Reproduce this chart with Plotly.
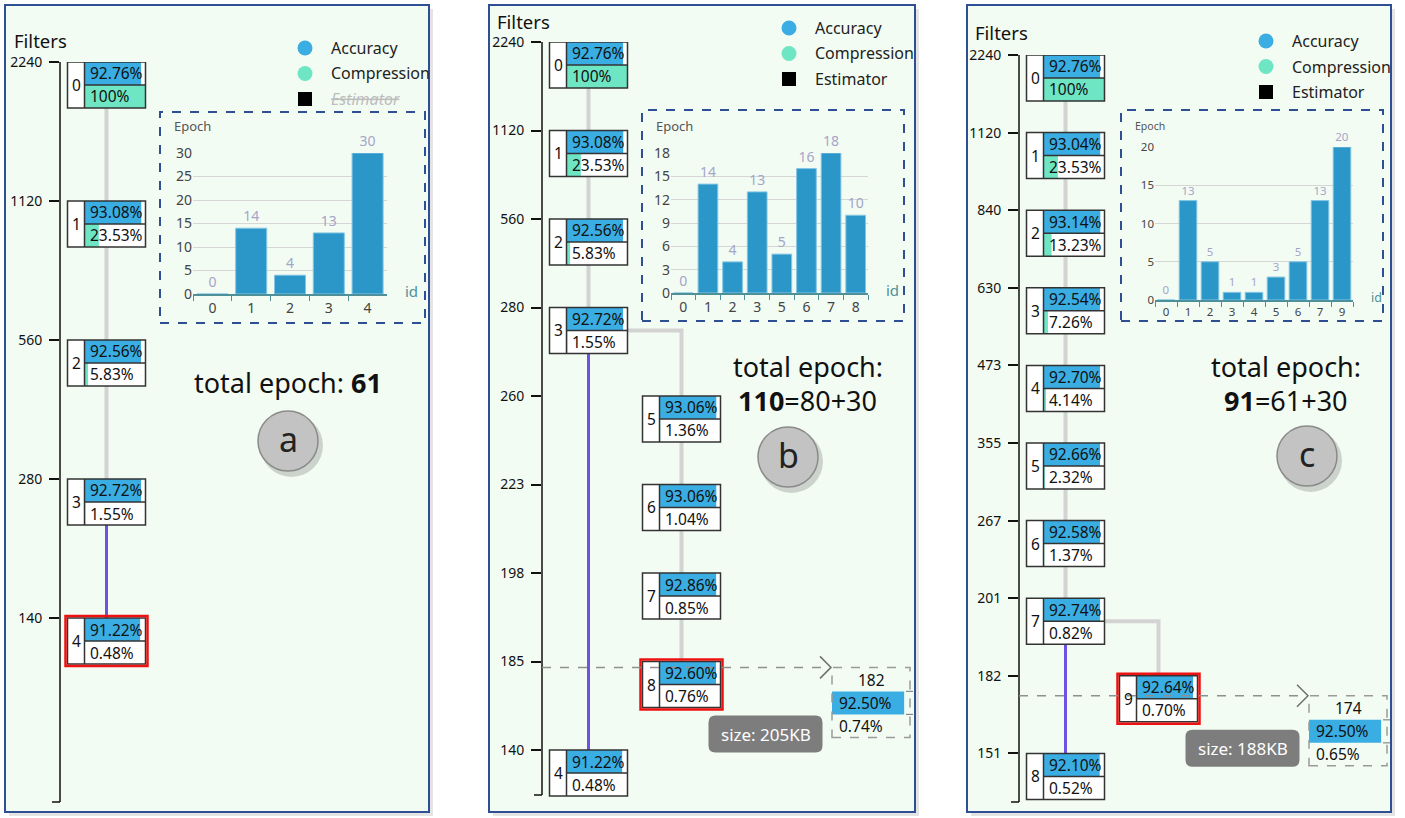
import numpy as np
import plotly.graph_objects as go

W, H = 1405, 818
FONT = "Noto Sans, Open Sans, DejaVu Sans, sans-serif"

ACC_BLUE = "#3aade2"
COMP_GREEN = "#6ee5c3"
BAR_BLUE = "#2b97c9"
LINK_GRAY = "#d3d3d3"
JUMP_PURPLE = "#6f52e3"
FRAME_BLUE = "#2f4f95"
PANEL_BG = "#f3fcf3"
TEAL = "#4e9099"

# ---------------- panel a ----------------
a_ids = [0, 1, 2, 3, 4]
a_filters = [2240, 1120, 560, 280, 140]
a_acc = [92.76, 93.08, 92.56, 92.72, 91.22]
a_comp = [100, 23.53, 5.83, 1.55, 0.48]
a_parent = [None, 0, 1, 2, 3]
a_branch = [0, 0, 0, 0, 0]
a_jump = [4]
a_selected = 4
a_epoch_ids = ["0", "1", "2", "3", "4"]
a_epochs = [0, 14, 4, 13, 30]
a_total = ["total epoch: <b>61</b>"]

# ---------------- panel b ----------------
b_ids = [0, 1, 2, 3, 4, 5, 6, 7, 8]
b_filters = [2240, 1120, 560, 280, 140, 260, 223, 198, 185]
b_acc = [92.76, 93.08, 92.56, 92.72, 91.22, 93.06, 93.06, 92.86, 92.60]
b_comp = [100, 23.53, 5.83, 1.55, 0.48, 1.36, 1.04, 0.85, 0.76]
b_parent = [None, 0, 1, 2, 3, 3, 5, 6, 7]
b_branch = [0, 0, 0, 0, 0, 1, 1, 1, 1]
b_jump = [4]
b_selected = 8
b_est_filters = 182
b_est_acc = 92.50
b_est_comp = 0.74
b_est_size = "205KB"
b_epoch_ids = ["0", "1", "2", "3", "5", "6", "7", "8"]
b_epochs = [0, 14, 4, 13, 5, 16, 18, 10]
b_total = ["total epoch:", "<b>110</b>=80+30"]

# ---------------- panel c ----------------
c_ids = [0, 1, 2, 3, 4, 5, 6, 7, 8, 9]
c_filters = [2240, 1120, 840, 630, 473, 355, 267, 201, 151, 182]
c_acc = [92.76, 93.04, 93.14, 92.54, 92.70, 92.66, 92.58, 92.74, 92.10, 92.64]
c_comp = [100, 23.53, 13.23, 7.26, 4.14, 2.32, 1.37, 0.82, 0.52, 0.70]
c_parent = [None, 0, 1, 2, 3, 4, 5, 6, 7, 7]
c_branch = [0, 0, 0, 0, 0, 0, 0, 0, 0, 1]
c_jump = [8]
c_selected = 9
c_est_filters = 174
c_est_acc = 92.50
c_est_comp = 0.65
c_est_size = "188KB"
c_epoch_ids = ["0", "1", "2", "3", "4", "5", "6", "7", "9"]
c_epochs = [0, 13, 5, 1, 1, 3, 5, 13, 20]
c_total = ["total epoch:", "<b>91</b>=61+30"]

PANELS = [
    dict(ids=a_ids, filters=a_filters, acc=a_acc, comp=a_comp, parent=a_parent,
         branch=a_branch, jump=a_jump, selected=a_selected, est=None,
         epoch_ids=a_epoch_ids, epochs=a_epochs, total=a_total, letter="a"),
    dict(ids=b_ids, filters=b_filters, acc=b_acc, comp=b_comp, parent=b_parent,
         branch=b_branch, jump=b_jump, selected=b_selected,
         est=(b_est_filters, b_est_acc, b_est_comp, b_est_size),
         epoch_ids=b_epoch_ids, epochs=b_epochs, total=b_total, letter="b"),
    dict(ids=c_ids, filters=c_filters, acc=c_acc, comp=c_comp, parent=c_parent,
         branch=c_branch, jump=c_jump, selected=c_selected,
         est=(c_est_filters, c_est_acc, c_est_comp, c_est_size),
         epoch_ids=c_epoch_ids, epochs=c_epochs, total=c_total, letter="c"),
]

# pixel layout of each panel
GEO = [
    dict(frame=(5, 5, 429, 812), axis_x=60, top=62, step=139, bottom=802,
         title=(12, 40), legend=(305, 48), est_off=False,
         inset=(160, 112, 425, 323), plot=(193, 153, 387, 294), dtick=5, fs=14,
         total_x=288, total_y=[382], circle=(288, 441)),
    dict(frame=(489, 5, 915, 812), axis_x=542, top=42, step=88.5, bottom=795,
         title=(495, 21), legend=(789, 28), est_off=True,
         inset=(642, 110, 904, 321), plot=(671, 153, 868, 293), dtick=3, fs=14,
         total_x=808, total_y=[366, 401], circle=(788, 457)),
    dict(frame=(967, 5, 1391, 812), axis_x=1019, top=55, step=77.6, bottom=802,
         title=(973, 33), legend=(1266, 41), est_off=True,
         inset=(1121, 110, 1383, 321), plot=(1155, 147, 1353, 300), dtick=5, fs=11.5,
         total_x=1286, total_y=[366, 401], circle=(1307, 456)),
]


def px(x):
    return x / W


def py(y):
    return 1 - y / H


def axname(n):
    return "" if n == 1 else str(n)


fig = go.Figure()
shapes, annos = [], []


def rect(x0, y0, x1, y1, xref, yref, fill="rgba(0,0,0,0)", color=None, width=0, dash=None, layer="above"):
    line = dict(width=width, color=color or "rgba(0,0,0,0)")
    if dash:
        line["dash"] = dash
    shapes.append(dict(type="rect", x0=x0, x1=x1, y0=y0, y1=y1, xref=xref, yref=yref,
                       fillcolor=fill, line=line, layer=layer))


def seg(x0, y0, x1, y1, xref, yref, color, width=1.5, dash=None):
    line = dict(width=width, color=color)
    if dash:
        line["dash"] = dash
    shapes.append(dict(type="line", x0=x0, x1=x1, y0=y0, y1=y1, xref=xref, yref=yref, line=line))


def text(x, y, s, xref="paper", yref="paper", size=15, color="#111", xanchor="center", yanchor="middle"):
    annos.append(dict(x=x, y=y, text=s, xref=xref, yref=yref, showarrow=False,
                      xanchor=xanchor, yanchor=yanchor, font=dict(family=FONT, size=size, color=color)))


layout_axes = {}

for k, (P, G) in enumerate(zip(PANELS, GEO), start=1):
    fx0, fy0, fx1, fy1 = G["frame"]
    # panel frame with soft shadow
    rect(px(fx0 + 4), py(fy1 + 4), px(fx1 + 4), py(fy0 + 4), "paper", "paper", fill="#e4e4e4", layer="below")
    rect(px(fx0), py(fy1), px(fx1), py(fy0), "paper", "paper", fill=PANEL_BG, color=FRAME_BLUE, width=2, layer="below")

    # ---- main tree axes (domain reaches the frame so boxes are not clipped) ----
    s = G["step"]
    ax0 = G["axis_x"]
    dom_bot = fy1 - 3
    xr, yr = "x" + axname(k), "y" + axname(k)
    order = sorted(P["filters"], reverse=True)
    rank = {f: i for i, f in enumerate(order)}
    layout_axes["xaxis" + axname(k)] = dict(domain=[px(ax0), px(fx1)], range=[0, fx1 - ax0],
                                            visible=False, anchor=yr, fixedrange=True, automargin=False)
    layout_axes["yaxis" + axname(k)] = dict(
        domain=[py(dom_bot), py(G["top"])], range=[(dom_bot - G["top"]) / s, 0],
        anchor=xr, tickvals=list(range(len(order))), ticktext=[str(f) for f in order],
        ticks="outside", ticklen=10, tickwidth=1.5, tickcolor="#111", showline=False,
        showgrid=False, zeroline=False, automargin=False, ticklabelstandoff=4,
        tickfont=dict(family=FONT, size=14, color="#111"), fixedrange=True)
    seg(px(ax0), py(G["top"]), px(ax0), py(G["bottom"]), "paper", "paper", "#111")
    seg(px(ax0 - 8), py(G["bottom"]), px(ax0), py(G["bottom"]), "paper", "paper", "#111")
    text(px(G["title"][0]), py(G["title"][1]), "Filters", size=18.5, color="#111", xanchor="left")

    bh = 46 / s

    def node_x(b):
        return 7.5 + 93 * b

    ids, filt, branch = P["ids"], P["filters"], P["branch"]

    # links (traces sit under the boxes)
    for i, p in enumerate(P["parent"]):
        if p is None:
            continue
        xp = node_x(branch[p]) + 39
        xc = node_x(branch[i]) + 39
        yp, yc = rank[filt[p]], rank[filt[i]]
        if branch[p] == branch[i]:
            xs, ys = [xp, xc], [yp + bh, yc]
        else:
            xs, ys = [xp, xc, xc], [yp + bh / 2, yp + bh / 2, yc]
        jump = ids[i] in P["jump"]
        fig.add_trace(go.Scatter(x=xs, y=ys, mode="lines", xaxis=xr, yaxis=yr,
                                 line=dict(color=JUMP_PURPLE if jump else LINK_GRAY, width=3 if jump else 4),
                                 hoverinfo="skip", showlegend=False))

    # node boxes
    for i in range(len(ids)):
        x0 = node_x(branch[i])
        top = rank[filt[i]]
        bot, mid = top + bh, top + bh / 2
        a, c = P["acc"][i], P["comp"][i]
        rect(x0, bot, x0 + 78, top, xr, yr, fill="white")
        rect(x0 + 17, mid, x0 + 17 + 61 * a / 100, top, xr, yr, fill=ACC_BLUE)
        rect(x0 + 17, bot, x0 + 17 + 61 * c / 100, mid, xr, yr, fill=COMP_GREEN)
        rect(x0, bot, x0 + 78, top, xr, yr, color="#333", width=1.5)
        seg(x0 + 17, top, x0 + 17, bot, xr, yr, "#333")
        seg(x0 + 17, mid, x0 + 78, mid, xr, yr, "#333")
        text(x0 + 8.5, mid, str(ids[i]), xr, yr, size=15.5)
        text(x0 + 20, top + bh / 4, f"{a:.2f}%", xr, yr, size=15.5, xanchor="left")
        ctxt = "100%" if c == 100 else f"{c:.2f}%"
        text(x0 + 20, top + 3 * bh / 4, ctxt, xr, yr, size=15.5, xanchor="left")
        if ids[i] == P["selected"]:
            rect(x0 - 2, bot + 2 / s, x0 + 80, top - 2 / s, xr, yr, color="#ee1111", width=2.5)
            sel = (x0, bot)

    # estimator
    if P["est"]:
        ef, ea, ec, esize = P["est"]
        fy = float(np.interp(ef, order[::-1], list(range(len(order)))[::-1]))
        seg(0, fy, 289, fy, xr, yr, "#8f8f8f", 1.5, "dash")
        shapes.append(dict(type="path", xref=xr, yref=yr,
                           path=f"M 278,{fy - 11 / s} L 289,{fy} L 278,{fy + 11 / s}",
                           line=dict(color="#707070", width=1.5)))
        rect(290, fy + 24 / s, 290 + 78 * ea / 100, fy + 47 / s, xr, yr, fill=ACC_BLUE)
        rect(290, fy + 70 / s, 368, fy, xr, yr, color="#9a9a9a", width=1.5, dash="dash")
        for yy in (24, 47):
            seg(364, fy + yy / s, 371, fy + yy / s, xr, yr, "#888", 1.2)
        text(329, fy + 12.5 / s, str(ef), xr, yr, size=15.5)
        text(295, fy + 35.5 / s, f"{ea:.2f}%", xr, yr, size=15.5, xanchor="left")
        text(295, fy + 58.5 / s, f"{ec:.2f}%", xr, yr, size=15.5, xanchor="left")
        # size tag under the selected node
        sx, sb = sel
        lx0, lx1 = sx + 66, sx + 180
        ly0, ly1 = sb + 8 / s, sb + 45 / s
        r, ry = 7, 7 / s
        path = (f"M {lx0 + r},{ly0} L {lx1 - r},{ly0} Q {lx1},{ly0} {lx1},{ly0 + ry} "
                f"L {lx1},{ly1 - ry} Q {lx1},{ly1} {lx1 - r},{ly1} L {lx0 + r},{ly1} "
                f"Q {lx0},{ly1} {lx0},{ly1 - ry} L {lx0},{ly0 + ry} Q {lx0},{ly0} {lx0 + r},{ly0} Z")
        shapes.append(dict(type="path", xref=xr, yref=yr, path=path, fillcolor="#7d7d7d",
                           line=dict(width=0)))
        text((lx0 + lx1) / 2, (ly0 + ly1) / 2, f"size: {esize}", xr, yr, size=17, color="white")

    # legend
    lx, ly = G["legend"]
    for j, (name, col) in enumerate([("Accuracy", ACC_BLUE), ("Compression", COMP_GREEN), ("Estimator", "#000")]):
        yy = ly + j * 25.5
        if j < 2:
            shapes.append(dict(type="circle", xref="paper", yref="paper", x0=px(lx - 7.5), x1=px(lx + 7.5),
                               y0=py(yy + 7.5), y1=py(yy - 7.5), fillcolor=col, line=dict(width=0)))
        else:
            rect(px(lx - 7), py(yy + 7), px(lx + 7), py(yy - 7), "paper", "paper", fill=col)
        if name == "Estimator" and not G["est_off"]:
            text(px(lx + 24), py(yy), "<s><i>Estimator</i></s>", size=16, color="#bdbdbd", xanchor="left")
        else:
            text(px(lx + 24), py(yy), name, size=16, color="#222", xanchor="left")

    # epoch inset
    ix0, iy0, ix1, iy1 = G["inset"]
    rect(px(ix0), py(iy1), px(ix1), py(iy0), "paper", "paper", color=FRAME_BLUE, width=2, dash="dash")
    qx0, qy0, qx1, qy1 = G["plot"]
    xi, yi = "x" + axname(k + 3), "y" + axname(k + 3)
    fs = G["fs"]
    fig.add_trace(go.Bar(x=P["epoch_ids"], y=P["epochs"], xaxis=xi, yaxis=yi,
                         marker=dict(color=BAR_BLUE, line=dict(color="#86c6e4", width=1)),
                         text=[str(v) for v in P["epochs"]], textposition="outside",
                         textfont=dict(family=FONT, size=fs, color="#a5a5c9"),
                         cliponaxis=False, constraintext="none", width=0.8,
                         hoverinfo="skip", showlegend=False))
    layout_axes["xaxis" + axname(k + 3)] = dict(
        domain=[px(qx0), px(qx1)], anchor=yi, type="category", showline=True, linecolor=TEAL,
        linewidth=1.5, ticks="outside", tickson="boundaries", ticklen=5, tickcolor=TEAL,
        showgrid=False, tickfont=dict(family=FONT, size=fs, color="#444"), fixedrange=True,
        automargin=False)
    layout_axes["yaxis" + axname(k + 3)] = dict(
        domain=[py(qy1), py(qy0)], anchor=xi, range=[0, max(P["epochs"])], dtick=G["dtick"],
        showgrid=True, gridcolor="#d6d6d6", showline=False, zeroline=False, ticks="",
        tickfont=dict(family=FONT, size=fs, color="#444"), fixedrange=True, automargin=False)
    text(px(ix0 + 12), py(126), "Epoch", size=fs - 1, color="#555", xanchor="left")
    text(px(qx1 + 16), py(qy1 - 3), "id", size=fs + 1, color=TEAL, xanchor="left")

    # total epoch text
    for t, ty in zip(P["total"], G["total_y"]):
        text(px(G["total_x"]), py(ty), t, size=27, color="#111")

    # letter badge
    cx, cy = G["circle"]
    shapes.append(dict(type="circle", xref="paper", yref="paper", x0=px(cx - 28), x1=px(cx + 35),
                       y0=py(cy + 36), y1=py(cy - 27), fillcolor="rgba(0,0,0,0.16)", line=dict(width=0)))
    shapes.append(dict(type="circle", xref="paper", yref="paper", x0=px(cx - 30), x1=px(cx + 30),
                       y0=py(cy + 30), y1=py(cy - 30), fillcolor="#c3c3c3",
                       line=dict(color="#8a8a8a", width=1.5)))
    text(px(cx), py(cy - 2), P["letter"], size=34, color="#222")

fig.update_layout(
    width=W, height=H, margin=dict(l=0, r=0, t=0, b=0, pad=0, autoexpand=False),
    paper_bgcolor="white", plot_bgcolor="rgba(0,0,0,0)",
    showlegend=False, shapes=shapes, annotations=annos,
    font=dict(family=FONT), bargap=0.2, **layout_axes,
)

fig.write_html("out.html", config={"displayModeBar": False},
               post_script="document.body.style.margin='0';document.body.style.overflow='hidden';")
